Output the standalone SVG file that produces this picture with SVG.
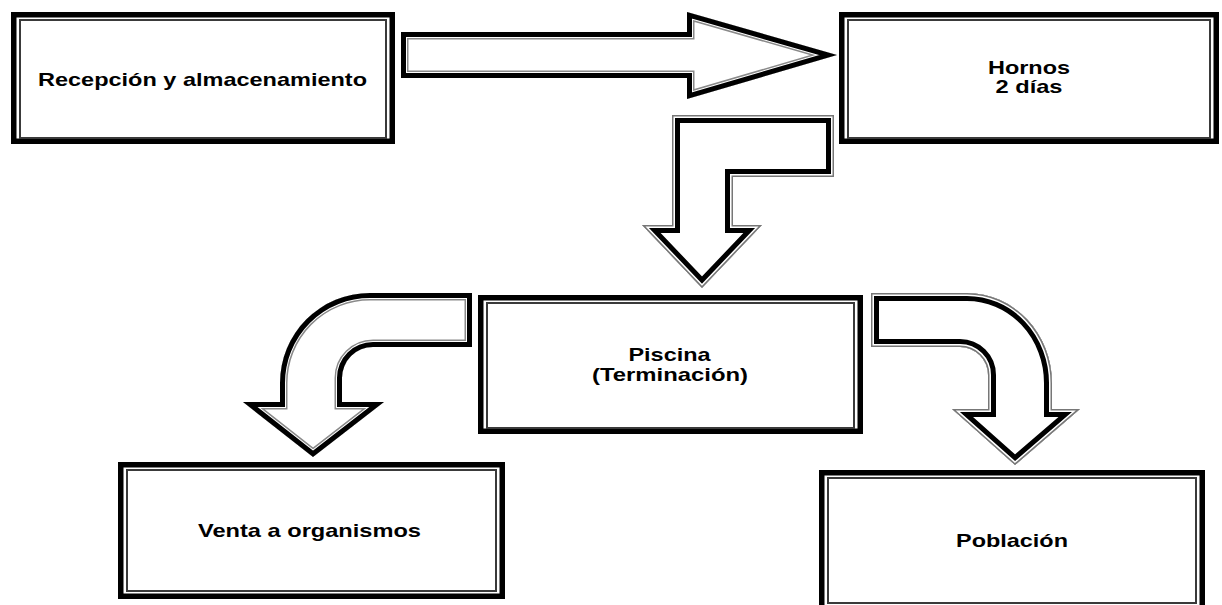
<svg xmlns="http://www.w3.org/2000/svg" xmlns:xlink="http://www.w3.org/1999/xlink" width="1222" height="605" viewBox="0 0 1222 605">
<style>
.bg{fill:#fff}
.outer{fill:#fff;stroke:#000;stroke-width:5.5}
.inner{fill:none;stroke:#3a3a3a;stroke-width:2}
.lbl{font-family:"Liberation Sans",Arial,sans-serif;font-weight:bold;font-size:18.5px;fill:#000;text-anchor:middle}
.wf{fill:#fff;stroke:none}
.s{fill:none;stroke-linejoin:miter}
.gA{stroke:#8a8a8a;stroke-width:15}
.wA{stroke:#fff;stroke-width:12}
.kA{stroke:#000;stroke-width:10}
.kB{stroke:#000;stroke-width:16}
.wB{stroke:#fff;stroke-width:6}
.gB{stroke:#777;stroke-width:3}
</style>
<defs>
<path id="a1" d="M401,32 L687,32 L687,12 L837,55 L687,99 L687,78 L401,78 Z"/>
<path id="a2" d="M672,115 L834,115 L834,177 L733,177 L733,225 L762,225 L702,288 L642,225 L672,225 Z"/>
<path id="a3" d="M472,293 L370,293 A90,90 0 0 0 280,383 L280,402 L243,402 L313,457 L384,402 L342,402 L342,378 A31,31 0 0 1 373,347 L472,347 Z"/>
<path id="a4" d="M871,293 L967,293 A85,90 0 0 1 1052,383 L1052,409 L1080,409 L1015,465 L952,409 L988,409 L988,375 A28,28 0 0 0 960,347 L871,347 Z"/>
<clipPath id="c1"><use xlink:href="#a1"/></clipPath>
<clipPath id="c2"><use xlink:href="#a2"/></clipPath>
<clipPath id="c3"><use xlink:href="#a3"/></clipPath>
<clipPath id="c4"><use xlink:href="#a4"/></clipPath>
</defs>
<rect class="bg" x="0" y="0" width="1222" height="605"/>
<g id="connectors">
  <g id="arrow-recepcion-hornos">
    <use xlink:href="#a1" class="wf"/>
    <g clip-path="url(#c1)">
      <use xlink:href="#a1" class="s gA"/><use xlink:href="#a1" class="s wA"/><use xlink:href="#a1" class="s kA"/>
    </g>
  </g>
  <g id="arrow-hornos-piscina">
    <use xlink:href="#a2" class="wf"/>
    <g clip-path="url(#c2)">
      <use xlink:href="#a2" class="s kB"/><use xlink:href="#a2" class="s wB"/><use xlink:href="#a2" class="s gB"/>
    </g>
  </g>
  <g id="arrow-piscina-venta">
    <use xlink:href="#a3" class="wf"/>
    <g clip-path="url(#c3)">
      <use xlink:href="#a3" class="s gA"/><use xlink:href="#a3" class="s wA"/><use xlink:href="#a3" class="s kA"/>
    </g>
  </g>
  <g id="arrow-piscina-poblacion">
    <use xlink:href="#a4" class="wf"/>
    <g clip-path="url(#c4)">
      <use xlink:href="#a4" class="s kB"/><use xlink:href="#a4" class="s wB"/><use xlink:href="#a4" class="s gB"/>
    </g>
  </g>
</g>
<g id="recepcion">
  <rect class="outer" x="13.75" y="14.75" width="378.5" height="126.5"/>
  <rect class="inner" x="20" y="20" width="366" height="118"/>
  <text class="lbl" x="202.5" y="86" textLength="329" lengthAdjust="spacingAndGlyphs">Recepción y almacenamiento</text>
</g>
<g id="hornos">
  <rect class="outer" x="841.75" y="14.75" width="374.5" height="126.5"/>
  <rect class="inner" x="848" y="20" width="362" height="118"/>
  <text class="lbl" x="1029" y="74" textLength="82" lengthAdjust="spacingAndGlyphs">Hornos</text>
  <text class="lbl" x="1029" y="93" textLength="67" lengthAdjust="spacingAndGlyphs">2 días</text>
</g>
<g id="piscina">
  <rect class="outer" x="480.75" y="297.75" width="379.5" height="133.5"/>
  <rect class="inner" x="487" y="303" width="367" height="125"/>
  <text class="lbl" x="669.5" y="361" textLength="82" lengthAdjust="spacingAndGlyphs">Piscina</text>
  <text class="lbl" x="670" y="381" textLength="156" lengthAdjust="spacingAndGlyphs">(Terminación)</text>
</g>
<g id="venta">
  <rect class="outer" x="120.75" y="464.75" width="381.5" height="131.5"/>
  <rect class="inner" x="127" y="470" width="369" height="121"/>
  <text class="lbl" x="309.5" y="537" textLength="223" lengthAdjust="spacingAndGlyphs">Venta a organismos</text>
</g>
<g id="poblacion">
  <rect class="outer" x="821.75" y="472.75" width="380.5" height="136.5"/>
  <rect class="inner" x="828" y="478" width="368" height="125"/>
  <text class="lbl" x="1012" y="547" textLength="112" lengthAdjust="spacingAndGlyphs">Población</text>
</g>
</svg>
